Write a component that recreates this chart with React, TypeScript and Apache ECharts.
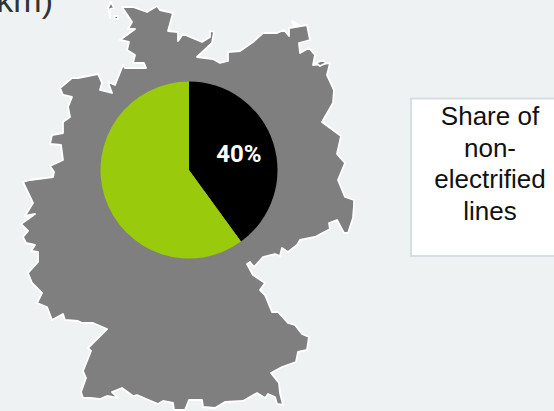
import React, { useEffect, useRef } from "react";
import * as echarts from "echarts";

const sliceNames = ["Non-electrified", "Electrified"];
const sliceValues = [40, 60];
const sliceColors = ["#000000", "#99CA0C"];
const sliceLabels = ["40%", ""];
const legendLines = ["Share of", "non-", "electrified", "lines"];
const clippedTitle = "(km)";

const mainland = [
  [122,7],[133,7],[147,12],[157,6],[160,10],[173,13],[168,31],[178,32],[178,41],[183,34],[202,42],[210,37],[210,31],[214,32],[212,43],[197,57],[213,59],[220,63],[228,61],[228,52],[240,51],[253,42],[263,33],[277,33],[284,30],[289,36],[289,28],[307,25],[310,40],[299,43],[300,53],[309,48],[315,55],[313,65],[330,63],[327,75],[334,90],[333,103],[322,122],[341,136],[337,154],[345,163],[338,180],[345,197],[354,200],[354,205],[353,218],[348,233],[344,233],[337,220],[329,223],[330,229],[315,237],[300,240],[297,245],[288,252],[282,248],[280,256],[275,254],[263,257],[254,267],[250,262],[247,264],[253,275],[265,283],[260,290],[265,295],[272,312],[278,312],[288,323],[295,325],[302,334],[309,337],[307,350],[298,352],[296,362],[282,367],[271,373],[279,383],[280,393],[283,405],[277,404],[275,397],[268,394],[265,398],[257,393],[243,401],[225,402],[215,408],[203,407],[202,400],[189,400],[185,410],[174,410],[173,403],[163,401],[158,404],[137,395],[133,396],[122,388],[112,392],[118,398],[107,396],[100,399],[90,398],[83,398],[81,392],[86,378],[83,371],[91,351],[88,348],[107,329],[93,323],[82,323],[78,321],[65,320],[63,314],[52,320],[47,307],[37,303],[42,293],[32,283],[28,273],[38,262],[38,252],[31,251],[35,245],[26,243],[23,237],[28,231],[21,224],[35,214],[25,216],[33,203],[23,182],[30,180],[53,177],[54,172],[50,166],[63,160],[61,145],[50,144],[52,135],[63,133],[63,122],[70,117],[68,107],[72,97],[63,95],[60,88],[72,78],[78,78],[98,74],[102,83],[100,90],[112,93],[108,82],[115,85],[123,65],[125,68],[146,68],[144,63],[133,63],[135,55],[127,50],[129,42],[120,40],[135,29],[128,29],[132,22],
];
const islands = [
  [[111,2],[114,8],[110,9],[110,18],[108,8]],
  [[114,16],[118,16],[118,19],[115,19]],
  [[292,21],[299,25],[294,25]],
  [[316,63],[323,60],[326,63],[320,66]],
];

const font = "'Liberation Sans', Arial, sans-serif";
const labelFont = "Roboto, sans-serif";

export default function App() {
  const ref = useRef<HTMLDivElement>(null);
  useEffect(() => {
    const chart = echarts.init(ref.current!, undefined, { renderer: "svg" });
    const land = { fill: "#7F7F7F", stroke: "#FFFFFF", lineWidth: 1.8, lineJoin: "round" };
    chart.setOption({
      animation: false,
      backgroundColor: "#EEF2F3",
      graphic: [
        { type: "polygon", z: 0, shape: { points: mainland }, style: land },
        ...islands.map((points) => ({ type: "polygon", z: 0, shape: { points }, style: land })),
        { type: "text", x: 53, y: 17, z: 5, style: { text: clippedTitle, font: `34px ${font}`, fill: "#333333", align: "right", verticalAlign: "bottom" } },
        { type: "rect", z: 1, shape: { x: 411, y: 98.5, width: 150, height: 157.5 }, style: { fill: "#FFFFFF", stroke: "#D5DEE3", lineWidth: 2 } },
        ...legendLines.map((line, i) => ({
          type: "text", z: 5, x: 490, y: 116 + i * 31.7,
          style: { text: line, font: `26px ${font}`, fill: "#111111", align: "center", verticalAlign: "middle" },
        })),
      ],
      series: [{
        type: "pie",
        center: [189, 170],
        radius: [0, 88.5],
        startAngle: 90,
        clockwise: true,
        silent: true,
        z: 3,
        data: sliceNames.map((name, i) => ({
          name, value: sliceValues[i],
          itemStyle: { color: sliceColors[i] },
          label: { show: !!sliceLabels[i], formatter: sliceLabels[i] },
        })),
        label: { position: "inside", color: "#FFFFFF", fontSize: 24, fontWeight: "bold", fontFamily: labelFont },
        labelLayout: { dx: 5, dy: -1 },
        labelLine: { show: false },
      }],
    });
    return () => chart.dispose();
  }, []);
  return <div ref={ref} style={{ position: "fixed", left: 0, top: 0, width: 554, height: 411 }} />;
}
